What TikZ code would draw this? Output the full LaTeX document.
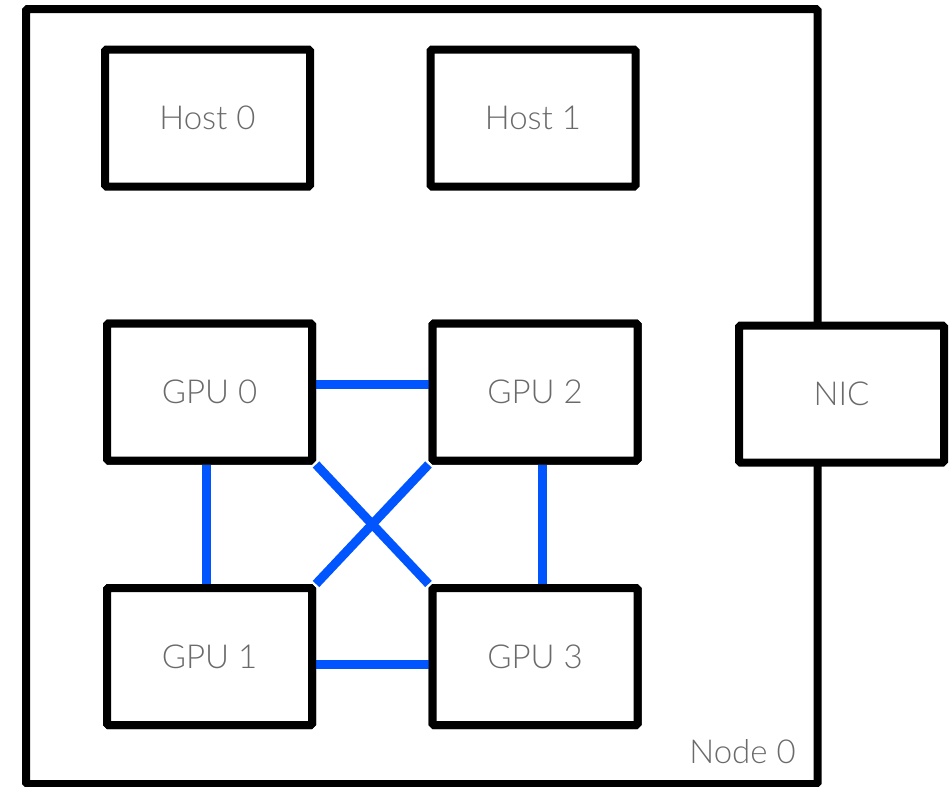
\documentclass[tikz,border=0pt]{standalone}
\usepackage{fontspec}
\setmainfont{Lato Light}
\definecolor{linkblue}{HTML}{0055FF}
\definecolor{txtgray}{HTML}{6A6A6A}
\begin{document}
\begin{tikzpicture}[x=1pt,y=-1pt,
  unitbox/.style={draw=black,fill=white,line width=8pt,rounded corners=1.5pt,
    minimum width=205pt,minimum height=137pt,inner sep=0pt,
    font=\fontsize{33}{36}\selectfont,text=txtgray},
  outerbox/.style={draw=black,line width=8pt,rounded corners=1.5pt,
    minimum width=791.5pt,minimum height=775pt,inner sep=0pt},
  link/.style={draw=linkblue,line width=9pt}]
\useasboundingbox (0,0) rectangle (951,787);
\node[outerbox] (node0) at (421.75,396.5) {};
\node[font=\fontsize{33}{36}\selectfont,text=txtgray,inner sep=0pt] (node0label) at (742.5,752) {Node 0};
% GPUs
\node[unitbox] (g0) at (209.5,392) {GPU 0};
\node[unitbox] (g2) at (535,392) {GPU 2};
\node[unitbox] (g1) at (209.5,656.5) {GPU 1};
\node[unitbox] (g3) at (535,656.5) {GPU 3};
% links
\draw[link] ([yshift=8pt]g0.east) -- ([yshift=8pt]g2.west);
\draw[link] ([yshift=-7.5pt]g1.east) -- ([yshift=-7.5pt]g3.west);
\draw[link] ([xshift=-3.5pt]g0.south) -- ([xshift=-3.5pt]g1.north);
\draw[link] ([xshift=7pt]g2.south) -- ([xshift=7pt]g3.north);
\draw[link] (g0.south east) -- (g3.north west);
\draw[link] (g2.south west) -- (g1.north east);
% redraw boxes on top
\node[unitbox] at (g0) {GPU 0};
\node[unitbox] at (g2) {GPU 2};
\node[unitbox] at (g1) {GPU 1};
\node[unitbox] at (g3) {GPU 3};
% hosts
\node[unitbox] (h0) at (207.5,118) {Host 0};
\node[unitbox] (h1) at (533,118) {Host 1};
% NIC
\node[unitbox] (nic) at (841.5,394) {NIC};
\end{tikzpicture}
\end{document}
